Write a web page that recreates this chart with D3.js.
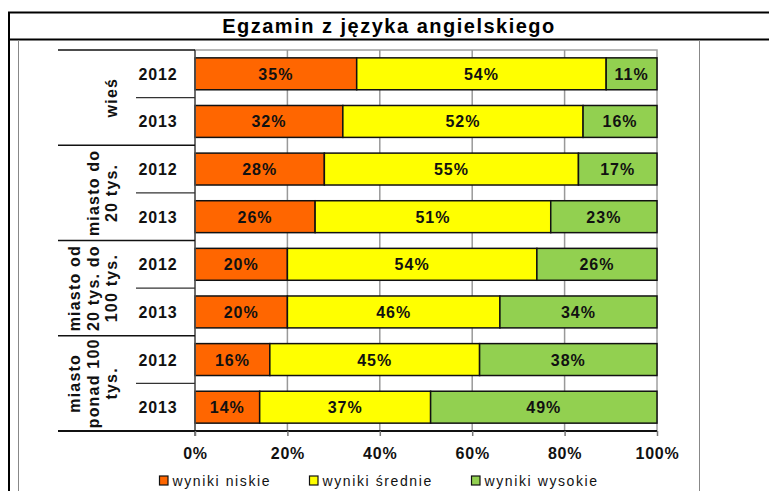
<!DOCTYPE html>
<html>
<head>
<meta charset="utf-8">
<script src="https://cdn.jsdelivr.net/npm/d3@7"></script>
<style>
  body { margin: 0; background: #fff; }
  svg { display: block; font-family: "Liberation Sans", Arial, sans-serif; }
</style>
</head>
<body>
<div id="chart"></div>
<script>
// data
const groupLines = [
  ["wieś"],
  ["miasto do", "20 tys."],
  ["miasto od", "20 tys. do", "100 tys."],
  ["miasto", "ponad 100", "tys."]
];
const years = ["2012", "2013"];
const niskie = [35, 32, 28, 26, 20, 20, 16.2, 14];
const srednie = [54, 52, 55, 51, 54, 46, 45.4, 37];
const wysokie = [11, 16, 17, 23, 26, 34, 38.4, 49];
const seriesNames = ["wyniki niskie", "wyniki średnie", "wyniki wysokie"];
const seriesColors = ["#ff6600", "#ffff00", "#92d050"];
const xTicks = [0, 20, 40, 60, 80, 100];

const W = 769, H = 491;
const svg = d3.select("#chart").append("svg").attr("width", W).attr("height", H);

// frame around the whole thing
svg.append("line").attr("x1", 8).attr("x2", W).attr("y1", 12.5).attr("y2", 12.5)
  .attr("stroke", "#000").attr("stroke-width", 2);
svg.append("line").attr("x1", 8).attr("x2", W).attr("y1", 39.5).attr("y2", 39.5)
  .attr("stroke", "#000").attr("stroke-width", 2);
svg.append("line").attr("x1", 9).attr("x2", 9).attr("y1", 12).attr("y2", H)
  .attr("stroke", "#000").attr("stroke-width", 2);
svg.append("line").attr("x1", 18.5).attr("x2", 18.5).attr("y1", 40).attr("y2", H)
  .attr("stroke", "#888").attr("stroke-width", 1);
svg.append("line").attr("x1", 699.5).attr("x2", 699.5).attr("y1", 40).attr("y2", H)
  .attr("stroke", "#888").attr("stroke-width", 1);

svg.append("text")
  .attr("x", 389).attr("y", 33)
  .attr("text-anchor", "middle")
  .style("font-size", "20px").style("font-weight", "bold")
  .style("letter-spacing", "1.5px")
  .text("Egzamin z języka angielskiego");

// plot geometry
const plotL = 195, plotR = 657, plotT = 50, plotB = 431;
const rows = [];
groupLines.forEach((g, gi) => years.forEach((yr, yi) => rows.push({ g: gi, year: yr, i: gi * 2 + yi })));

const x = d3.scaleLinear().domain([0, 100]).range([plotL, plotR]);
const y = d3.scaleBand().domain(d3.range(rows.length)).range([plotT, plotB])
  .paddingInner(0.33).paddingOuter(0.165);
const step = y.step();

// plot border and gridlines
svg.append("rect").attr("x", plotL).attr("y", plotT).attr("width", plotR - plotL).attr("height", plotB - plotT)
  .attr("fill", "none").attr("stroke", "#a0a0a0").attr("stroke-width", 1.5);
svg.append("g").selectAll("line").data(xTicks.slice(1, -1)).join("line")
  .attr("x1", d => x(d)).attr("x2", d => x(d))
  .attr("y1", plotT).attr("y2", plotB)
  .attr("stroke", "#999").attr("stroke-width", 1.5);

// stacked bars
const stackData = rows.map(r => ({ niskie: niskie[r.i], srednie: srednie[r.i], wysokie: wysokie[r.i] }));
const stack = d3.stack().keys(["niskie", "srednie", "wysokie"])(stackData);

stack.forEach((layer, li) => {
  const g = svg.append("g");
  g.selectAll("rect").data(layer).join("rect")
    .attr("x", d => x(d[0]))
    .attr("y", (d, i) => y(i))
    .attr("width", d => x(d[1]) - x(d[0]))
    .attr("height", y.bandwidth())
    .attr("fill", seriesColors[li])
    .attr("stroke", "#111").attr("stroke-width", 1.5);
  g.selectAll("text").data(layer).join("text")
    .attr("x", d => (x(d[0]) + x(d[1])) / 2)
    .attr("y", (d, i) => y(i) + y.bandwidth() / 2 + 6)
    .attr("text-anchor", "middle")
    .style("font-size", "16px").style("font-weight", "bold")
    .style("letter-spacing", "1px")
    .attr("fill", "#111")
    .text(d => Math.round(d[1] - d[0]) + "%");
});

// category axis (two levels)
const axisG = svg.append("g");
axisG.append("line").attr("x1", plotL).attr("x2", plotL).attr("y1", plotT).attr("y2", plotB + 5)
  .attr("stroke", "#555").attr("stroke-width", 1.5);
axisG.append("line").attr("x1", 58).attr("x2", plotR).attr("y1", plotB).attr("y2", plotB)
  .attr("stroke", "#111").attr("stroke-width", 2);
groupLines.forEach((lines, gi) => {
  const y0 = plotT + gi * 2 * step;
  axisG.append("line").attr("x1", 58).attr("x2", plotL).attr("y1", y0).attr("y2", y0)
    .attr("stroke", "#111").attr("stroke-width", 1.5);
  axisG.append("line").attr("x1", 136).attr("x2", plotL).attr("y1", y0 + step).attr("y2", y0 + step)
    .attr("stroke", "#333").attr("stroke-width", 1.2);
  const cy = y0 + step;
  lines.forEach((t, li) => {
    const bx = 117 - (lines.length - 1 - li) * 18.5;
    axisG.append("text")
      .attr("transform", `translate(${bx},${cy}) rotate(-90)`)
      .attr("text-anchor", "middle")
      .style("font-size", "16px").style("font-weight", "bold")
      .style("letter-spacing", "1.2px")
      .attr("fill", "#111")
      .text(t);
  });
});
axisG.selectAll("text.year").data(rows).join("text")
  .attr("class", "year")
  .attr("x", 158)
  .attr("y", d => y(d.i) + y.bandwidth() / 2 + 6)
  .attr("text-anchor", "middle")
  .style("font-size", "16px").style("font-weight", "bold")
  .style("letter-spacing", "0.8px")
  .attr("fill", "#111")
  .text(d => d.year);

// value axis
const xAxis = d3.axisBottom(x).tickValues(xTicks).tickFormat(d => d + "%").tickSize(5).tickPadding(12);
const xg = svg.append("g").attr("transform", `translate(0,${plotB})`).call(xAxis);
xg.select(".domain").remove();
xg.selectAll(".tick line").attr("stroke", "#777").attr("stroke-width", 1.5);
xg.selectAll(".tick text")
  .style("font-size", "16px").style("font-weight", "bold")
  .style("letter-spacing", "0.8px")
  .style("font-family", "'Liberation Sans', Arial, sans-serif")
  .attr("fill", "#111");

// legend
const legendX = [159.5, 309.5, 471.5];
const lg = svg.append("g");
seriesNames.forEach((name, i) => {
  lg.append("rect").attr("x", legendX[i]).attr("y", 476).attr("width", 8.5).attr("height", 9)
    .attr("fill", seriesColors[i]).attr("stroke", "#111").attr("stroke-width", 1.2);
  lg.append("text").attr("x", legendX[i] + 13).attr("y", 486)
    .style("font-size", "14px").style("letter-spacing", "1.6px")
    .attr("fill", "#111")
    .text(name);
});
</script>
</body>
</html>
